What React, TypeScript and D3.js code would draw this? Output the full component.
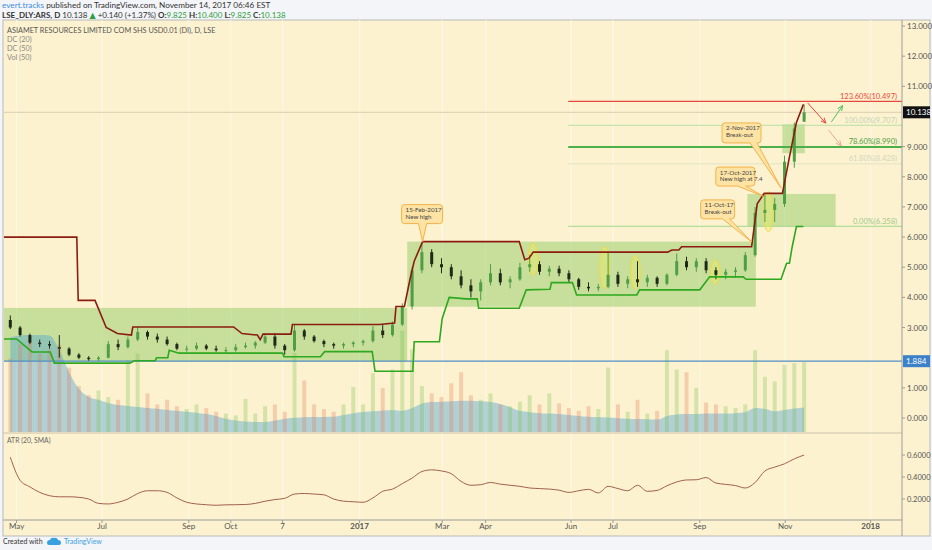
import React from "react";
import * as d3 from "d3";

// ---------- DATA ----------
const parse = (s: string) => new Date(s + "T00:00:00Z");

// weekly bars, week starting Mondays from 2016-04-25 to 2017-11-13
const weekStarts: Date[] = d3.utcMonday.range(parse("2016-04-25"), parse("2017-11-14"));

const opens = [3.25,3.0,2.75,2.5,2.45,2.35,2.3,2.1,2.0,1.95, 2.0,2.45,2.35,2.6,2.85,2.7,2.6,2.45,2.3,2.3, 2.4,2.3,2.25,2.25,2.35,2.4,2.5,2.7,2.4,2.25, 2.9,2.7,2.55,2.45,2.4,2.45,2.5,2.55,2.9,2.75, 3.1,3.7,4.9,5.5,5.1,5.0,4.7,4.4,4.2,4.5, 4.8,4.5,4.6,5.0,5.1,4.85,4.95,4.8,4.6,4.35, 4.3,4.35,4.75,4.45,4.6,4.5,4.65,4.45,4.75,5.2, 5.0,5.2,4.9,4.75,4.85,4.9,5.4,6.8,6.9,7.1, 8.5,9.825];
const highs = [3.4,3.05,2.8,2.6,2.55,2.75,2.35,2.15,2.05,2.05, 2.55,2.6,2.7,3.05,2.9,2.8,2.7,2.5,2.4,2.5, 2.45,2.4,2.35,2.45,2.5,2.55,2.8,2.8,2.45,3.1, 2.95,2.75,2.6,2.5,2.5,2.55,2.6,3.05,3.1,3.2, 3.8,5.0,5.8,5.6,5.3,5.1,4.9,4.6,4.6,5.1, 4.95,4.7,5.15,5.4,5.2,5.05,5.05,4.9,4.65,4.5, 4.45,5.5,4.85,4.7,5.2,4.75,4.7,4.8,5.45,5.35, 5.3,5.3,5.0,4.95,5.0,5.5,7.0,7.4,7.3,8.7, 9.8,10.4];
const lows = [2.95,2.7,2.45,2.35,2.3,2.0,2.05,1.95,1.9,1.884, 1.98,2.25,2.3,2.55,2.6,2.5,2.4,2.25,2.2,2.25, 2.25,2.2,2.15,2.2,2.3,2.3,2.45,2.3,2.1,2.2, 2.6,2.5,2.35,2.3,2.3,2.35,2.4,2.5,2.65,2.7, 3.05,3.6,4.8,5.0,4.8,4.6,4.3,4.0,3.9,4.4, 4.4,4.3,4.55,4.85,4.75,4.7,4.7,4.5,4.25,4.2, 4.2,4.3,4.35,4.3,4.35,4.35,4.35,4.4,4.7,4.9, 4.85,4.8,4.6,4.6,4.65,4.85,5.35,6.5,6.5,7.0, 8.3,9.825];
const closes = [3.0,2.75,2.5,2.45,2.4,2.3,2.1,2.0,1.95,2.0, 2.45,2.35,2.6,2.85,2.7,2.6,2.45,2.3,2.3,2.4, 2.3,2.25,2.25,2.35,2.4,2.5,2.7,2.4,2.25,2.9, 2.7,2.55,2.45,2.4,2.45,2.5,2.55,2.9,2.75,3.1, 3.7,4.9,5.5,5.1,5.0,4.7,4.4,4.2,4.5,4.8, 4.5,4.6,5.0,5.1,4.85,4.95,4.8,4.6,4.35,4.3, 4.35,4.75,4.45,4.6,4.5,4.65,4.45,4.75,5.2,5.0, 5.2,4.9,4.75,4.85,4.9,5.4,6.8,6.9,7.1,8.5, 9.6,10.138];

const volumes = [800,950,1000,850,900,950,700,500,400,450, 380,350,780,850,420,300,350,280,250,300, 260,220,200,180,360,200,280,300,220,860, 560,300,250,220,300,490,300,640,480,680, 1100,900,500,420,380,530,650,400,350,420, 300,280,330,400,300,420,310,260,230,280, 250,700,300,220,350,200,230,890,680,650, 480,320,300,280,260,300,890,600,550,730, 750,760];
const volMA = [1030,1050,1055,1055,1050,890,650,470,380,350, 315,293,283,272,262,252,240,230,220,210, 195,175,145,125,115,110,110,125,145,155, 160,162,163,165,185,205,218,225,235,240, 230,260,310,325,330,335,340,340,335,325, 305,270,230,215,205,200,195,185,175,165, 160,158,150,145,140,138,135,175,190,195, 195,200,200,200,205,215,260,250,225,240, 255,265];
const atr = [0.58,0.37,0.31,0.26,0.23,0.22,0.22,0.215,0.2,0.16, 0.155,0.17,0.2,0.25,0.275,0.275,0.26,0.21,0.17,0.155, 0.148,0.143,0.147,0.148,0.15,0.16,0.18,0.195,0.206,0.245, 0.25,0.245,0.238,0.2,0.18,0.175,0.17,0.21,0.27,0.29, 0.34,0.39,0.45,0.465,0.455,0.43,0.36,0.325,0.33,0.35, 0.335,0.325,0.315,0.3,0.295,0.29,0.28,0.26,0.275,0.288, 0.255,0.315,0.295,0.275,0.325,0.27,0.278,0.32,0.355,0.373, 0.375,0.395,0.345,0.333,0.322,0.3,0.35,0.455,0.49,0.52, 0.565,0.6];

// Donchian channel (50)
const dcUpperDates = ["2016-04-22","2016-06-13","2016-06-14","2016-06-26","2016-07-04","2016-07-12","2016-07-22","2016-07-23","2016-10-03","2016-10-09","2016-10-20","2016-10-22","2016-10-24","2016-11-13","2016-11-14","2017-01-15","2017-01-26","2017-01-27","2017-02-02","2017-02-06","2017-02-09","2017-02-15","2017-04-25","2017-04-29","2017-05-02","2017-05-05","2017-08-09","2017-08-12","2017-08-17","2017-08-19","2017-10-08","2017-10-12","2017-10-17","2017-10-30","2017-11-04","2017-11-09","2017-11-14"];
const dcUpperValues = [6.0,6.0,3.9,3.9,3.0,2.8,2.75,3.02,3.02,2.8,2.75,2.6,2.78,2.78,3.1,3.1,3.15,3.7,3.7,4.6,5.2,5.85,5.85,5.25,5.3,5.5,5.5,5.57,5.57,5.68,5.68,7.1,7.45,7.45,8.65,9.8,10.4];
const dcLowerDates = ["2016-04-22","2016-05-01","2016-05-12","2016-05-25","2016-05-28","2016-07-21","2016-07-24","2016-08-08","2016-08-09","2016-08-17","2016-08-18","2016-08-25","2016-11-07","2016-11-08","2016-12-04","2016-12-07","2017-01-10","2017-01-12","2017-02-08","2017-02-09","2017-02-27","2017-03-01","2017-03-06","2017-03-18","2017-03-26","2017-03-27","2017-04-25","2017-04-30","2017-05-17","2017-05-18","2017-06-02","2017-06-05","2017-07-18","2017-07-20","2017-09-01","2017-09-08","2017-10-02","2017-10-04","2017-10-29","2017-11-02","2017-11-04","2017-11-06","2017-11-09","2017-11-14"];
const dcLowerValues = [2.62,2.62,2.19,2.19,1.82,1.82,1.9,1.9,2.0,2.0,2.25,2.15,2.15,2.03,2.03,2.2,2.2,1.55,1.55,2.53,2.53,3.3,4.0,3.95,3.95,3.64,3.64,4.25,4.27,4.49,4.49,4.08,4.08,4.25,4.25,4.68,4.68,4.6,4.6,5.13,5.13,5.68,6.35,6.35];

// ranges (boxes) drawn on chart: [startDate, endDate, lowPrice, highPrice]
const zones: [string, string, number, number][] = [
  ["2016-04-22", "2017-02-04", 1.884, 3.65],
  ["2017-02-04", "2017-10-11", 3.69, 5.85],
  ["2017-10-05", "2017-12-07", 6.358, 7.43],
  ["2017-10-30", "2017-11-15", 8.78, 9.74],
];

// highlighted ellipses: [centreDate, centrePrice, halfHeightInPrice]
const ellipses: [string, number, number][] = [
  ["2017-05-05", 5.27, 0.53],
  ["2017-06-25", 4.99, 0.7],
  ["2017-07-17", 4.84, 0.56],
  ["2017-09-12", 4.84, 0.4],
  ["2017-10-20", 6.84, 0.66],
];

// callouts: anchor date / price and text
const calloutDates = ["2017-02-15", "2017-10-08", "2017-10-16", "2017-10-29"];
const calloutPrices = [5.85, 5.84, 7.36, 7.63];
const calloutTexts = [["15-Feb-2017", "New high"], ["11-Oct-17", "Break-out"], ["17-Oct-2017", "New high at 7.4"], ["2-Nov-2017", "Break-out"]];

// Fibonacci extension
const fibLow = 6.358;
const fibHigh = 9.707;
const fibStart = "2017-05-30";
const fibRatios = [0, 0.618, 0.786, 1.0, 1.236];

// arrows [fromDate, fromPrice, toDate, toPrice]
const arrows: [string, number, string, number][] = [
  ["2017-11-17", 10.45, "2017-11-30", 9.78],
  ["2017-12-04", 9.82, "2017-12-12", 10.36],
  ["2017-12-02", 9.55, "2017-12-11", 9.02],
];

const lastPrice = 10.138;
const supportLevel = 1.884;

const priceTicks = [0, 1, 3, 4, 5, 6, 7, 8, 9, 11, 12, 13];
const atrTicks = [0.2, 0.4, 0.6];
const timeTickDates = ["2016-05-01","2016-07-01","2016-09-01","2016-10-01","2016-11-07","2017-01-01","2017-03-01","2017-04-01","2017-06-01","2017-07-01","2017-09-01","2017-11-01","2018-01-01"];
const timeTickLabels = ["May","Jul","Sep","Oct","7","2017","Mar","Apr","Jun","Jul","Sep","Nov","2018"];

// ---------- LAYOUT ----------
const W = 932, H = 550;
const L = 3, R = 930, TOP = 20, AXX = 902;
const MAIN_BOTTOM = 432, ATR_TOP = 433, ATR_BOTTOM = 520, CHART_BOTTOM = 536;
const FONT = "Lato, 'Open Sans', 'DejaVu Sans', sans-serif";

const calloutLayout = [
  { dx: -21, dy: -37, w: 41, h: 19, b0: -4, b1: 4 },
  { dx: -51, dy: -42, w: 34, h: 19, b0: -29, b1: -22 },
  { dx: -47, dy: -29, w: 39, h: 19, b0: -25, b1: -17 },
  { dx: -59, dy: -65, w: 39, h: 20, b0: -31, b1: -24 },
];
const fibStyles: Record<string, { c: string; w: number; t: string }> = {
  "0": { c: "#9fd88a", w: 1, t: "#9bc98a" },
  "0.618": { c: "#dfe3c4", w: 1, t: "#cfd8bd" },
  "0.786": { c: "#4cb04a", w: 2, t: "#4a9f45" },
  "1": { c: "#b5e0a0", w: 1, t: "#c2d4b4" },
  "1.236": { c: "#e8473e", w: 1.2, t: "#e8473e" },
};

export default function App() {
  const x = d3.scaleUtc()
    .domain([parse("2016-04-22"), new Date(Date.UTC(2018, 0, 23, 10))])
    .range([4, AXX]);
  const y = d3.scaleLinear().domain([0, 13]).range([418, 26]);
  const yv = d3.scaleLinear().domain([0, 1000]).range([MAIN_BOTTOM, 340]);
  const ya = d3.scaleLinear().domain([0, 0.6]).range([521, 455]);

  const cx = (i: number) => x(d3.utcHour.offset(weekStarts[i], 36));

  const upperLine = d3.line<number>().x((_, i) => x(parse(dcUpperDates[i]))).y((v) => y(v))(dcUpperValues) || "";
  const lowerLine = d3.line<number>().x((_, i) => x(parse(dcLowerDates[i]))).y((v) => y(v))(dcLowerValues) || "";
  const volArea = d3.area<number>().x((_, i) => cx(i)).y0(MAIN_BOTTOM).y1((v) => yv(v)).curve(d3.curveMonotoneX)(volMA) || "";
  const atrLine = d3.line<number>().x((_, i) => cx(i)).y((v) => ya(v)).curve(d3.curveMonotoneX)(atr) || "";

  const calloutPath = (tx: number, ty: number, k: number) => {
    const c = calloutLayout[k];
    const x0 = tx + c.dx, y0 = ty + c.dy, x1 = x0 + c.w, y1 = y0 + c.h, r = 3;
    const bx0 = tx + c.b0, bx1 = tx + c.b1;
    return `M${x0 + r},${y0}H${x1 - r}Q${x1},${y0} ${x1},${y0 + r}V${y1 - r}Q${x1},${y1} ${x1 - r},${y1}H${bx1}L${tx},${ty}L${bx0},${y1}H${x0 + r}Q${x0},${y1} ${x0},${y1 - r}V${y0 + r}Q${x0},${y0} ${x0 + r},${y0}Z`;
  };

  return (
    <div>
      <style>{"body{margin:0;background:#f3f5f8}"}</style>
      <svg width={W} height={H} style={{ display: "block", fontFamily: FONT }}>
        <defs>
          <clipPath id="mainClip"><rect x={L + 1} y={TOP} width={AXX - L - 1} height={MAIN_BOTTOM - TOP} /></clipPath>
          <clipPath id="atrClip"><rect x={L + 1} y={ATR_TOP} width={AXX - L - 1} height={ATR_BOTTOM - ATR_TOP} /></clipPath>
          <marker id="arR" viewBox="0 0 10 10" refX="9" refY="5" markerWidth="6" markerHeight="6" orient="auto">
            <path d="M0,1L9,5L0,9" fill="none" stroke="#e8473e" strokeWidth="1.5" />
          </marker>
          <marker id="arG" viewBox="0 0 10 10" refX="9" refY="5" markerWidth="6" markerHeight="6" orient="auto">
            <path d="M0,1L9,5L0,9" fill="none" stroke="#4cc060" strokeWidth="1.5" />
          </marker>
          <marker id="arF" viewBox="0 0 10 10" refX="9" refY="5" markerWidth="6" markerHeight="6" orient="auto">
            <path d="M0,1L9,5L0,9" fill="none" stroke="#e8a890" strokeWidth="1.5" />
          </marker>
        </defs>
        <rect x={0} y={0} width={W} height={H} fill="#f3f5f8" />
        {/* header */}
        <text x={2} y={8} fontSize={8.2} fill="#333">
          <tspan fill="#3d8fdc">evert.tracks</tspan>
          <tspan> published on TradingView.com, November 14, 2017 06:46 EST</tspan>
        </text>
        <text x={2} y={17.5} fontSize={8} fill="#333">
          <tspan fontWeight="bold">LSE_DLY:ARS, D</tspan>
          <tspan> 10.138 </tspan>
          <tspan fill="#2e9e3e">▲</tspan>
          <tspan> +0.140 (+1.37%) </tspan>
          <tspan fontWeight="bold">O:</tspan><tspan fill="#2e9e3e">9.825 </tspan>
          <tspan fontWeight="bold">H:</tspan><tspan fill="#2e9e3e">10.400 </tspan>
          <tspan fontWeight="bold">L:</tspan><tspan fill="#2e9e3e">9.825 </tspan>
          <tspan fontWeight="bold">C:</tspan><tspan fill="#2e9e3e">10.138</tspan>
        </text>

        {/* chart background */}
        <rect x={L} y={TOP} width={R - L} height={CHART_BOTTOM - TOP} fill="#fdf2cf" stroke="#b9b9b9" />

        {/* vertical grid */}
        {timeTickDates.map((d, i) => (
          <line key={"g" + i} x1={x(parse(d))} x2={x(parse(d))} y1={TOP} y2={ATR_BOTTOM} stroke="#fff8e6" strokeWidth={1} />
        ))}

        <g clipPath="url(#mainClip)">
          {/* zones */}
          {zones.map((z, i) => (
            <rect key={"z" + i} x={x(parse(z[0]))} width={x(parse(z[1])) - x(parse(z[0]))}
              y={y(z[3])} height={y(z[2]) - y(z[3])} fill="#7cc653" fillOpacity={0.42} />
          ))}
          {/* volume MA area */}
          <path d={volArea} fill="#4aa1d6" fillOpacity={0.42} />
          {/* volume bars */}
          {volumes.map((v, i) => (
            <rect key={"v" + i} x={cx(i) - 2} width={4} y={yv(v)} height={MAIN_BOTTOM - yv(v)}
              fill={closes[i] >= opens[i] ? "#78c050" : "#e07a5a"} fillOpacity={0.3} />
          ))}
          {/* current price line */}
          <line x1={L} x2={AXX} y1={y(lastPrice)} y2={y(lastPrice)} stroke="#d9cdb0" strokeWidth={1} />
          {/* support line */}
          <line x1={L} x2={AXX} y1={y(supportLevel)} y2={y(supportLevel)} stroke="#4f8fc6" strokeWidth={1.2} />
          {/* fib levels */}
          {fibRatios.map((r) => {
            const p = fibLow + r * (fibHigh - fibLow);
            const s = fibStyles[String(r)];
            return (
              <g key={"f" + r}>
                <line x1={x(parse(fibStart))} x2={AXX} y1={y(p)} y2={y(p)} stroke={s.c} strokeWidth={s.w} />
                <text x={AXX - 5} y={y(p) - 2.5} fontSize={7.5} fill={s.t} textAnchor="end">
                  {`${(r * 100).toFixed(2)}%(${p.toFixed(3)})`}
                </text>
              </g>
            );
          })}
          {/* ellipses */}
          {ellipses.map((e, i) => (
            <ellipse key={"e" + i} cx={x(parse(e[0]))} cy={y(e[1])} rx={5} ry={y(e[1] - e[2]) - y(e[1])}
              fill="#f2ee5a" fillOpacity={0.35} stroke="#f0d848" strokeWidth={1} />
          ))}
          {/* candles */}
          {opens.map((o, i) => {
            const c = closes[i];
            const up = c >= o;
            const col = up ? "#4f9e46" : "#1e2a18";
            const top = y(Math.max(o, c)), bot = y(Math.min(o, c));
            return (
              <g key={"c" + i}>
                <line x1={cx(i)} x2={cx(i)} y1={y(highs[i])} y2={y(lows[i])} stroke={col} strokeWidth={1} />
                <rect x={cx(i) - 1.5} width={3} y={top} height={Math.max(1, bot - top)} fill={col} />
              </g>
            );
          })}
          {/* Donchian channel */}
          <path d={upperLine} fill="none" stroke="#8c1c12" strokeWidth={1.6} />
          <path d={lowerLine} fill="none" stroke="#2ea81e" strokeWidth={1.6} />
          {/* callouts */}
          {calloutDates.map((d, k) => {
            const tx = x(parse(d)), ty = y(calloutPrices[k]);
            const c = calloutLayout[k];
            return (
              <g key={"co" + k}>
                <path d={calloutPath(tx, ty, k)} fill="#fde3a4" stroke="#f4b24a" strokeWidth={1} />
                {calloutTexts[k].map((t, j) => (
                  <text key={j} x={tx + c.dx + 4} y={ty + c.dy + 7.5 + j * 6.5} fontSize={6.2} fill="#444">{t}</text>
                ))}
              </g>
            );
          })}
          {/* arrows */}
          {arrows.map((a, i) => (
            <line key={"a" + i} x1={x(parse(a[0]))} y1={y(a[1])} x2={x(parse(a[2]))} y2={y(a[3])}
              stroke={i === 0 ? "#e8473e" : i === 1 ? "#4cc060" : "#e8a890"} strokeWidth={1}
              markerEnd={i === 0 ? "url(#arR)" : i === 1 ? "url(#arG)" : "url(#arF)"} />
          ))}
        </g>

        {/* legend */}
        <text x={7} y={33} fontSize={7.3} fill="#555">ASIAMET RESOURCES LIMITED COM SHS USD0.01 (DI), D, LSE</text>
        <text x={7} y={42} fontSize={7.3} fill="#888">DC (20)</text>
        <text x={7} y={51} fontSize={7.3} fill="#888">DC (50)</text>
        <text x={7} y={60} fontSize={7.3} fill="#888">Vol (50)</text>

        {/* ATR pane */}
        <line x1={L} x2={AXX} y1={ATR_TOP} y2={ATR_TOP} stroke="#c9c2ae" />
        <text x={7} y={443} fontSize={6.8} fill="#666">ATR (20, SMA)</text>
        <g clipPath="url(#atrClip)">
          <path d={atrLine} fill="none" stroke="#a0604e" strokeWidth={1} />
        </g>

        {/* price axis */}
        <line x1={AXX} x2={AXX} y1={TOP} y2={CHART_BOTTOM} stroke="#9c9c9c" />
        {priceTicks.map((t) => (
          <g key={"pt" + t}>
            <line x1={AXX} x2={AXX + 3} y1={y(t)} y2={y(t)} stroke="#9c9c9c" />
            <text x={AXX + 5} y={y(t) + 3} fontSize={8} fill="#555">{t.toFixed(3)}</text>
          </g>
        ))}
        <rect x={AXX + 1} y={y(lastPrice) - 6} width={27} height={12} fill="#111" />
        <text x={AXX + 4} y={y(lastPrice) + 3} fontSize={8} fill="#fff">{lastPrice.toFixed(3)}</text>
        <rect x={AXX + 1} y={y(supportLevel) - 6} width={27} height={12} fill="#3b82c9" />
        <text x={AXX + 4} y={y(supportLevel) + 3} fontSize={8} fill="#fff">{supportLevel.toFixed(3)}</text>
        {atrTicks.map((t) => (
          <g key={"at" + t}>
            <line x1={AXX} x2={AXX + 3} y1={ya(t)} y2={ya(t)} stroke="#9c9c9c" />
            <text x={AXX + 5} y={ya(t) + 3} fontSize={7.5} fill="#555">{t.toFixed(4)}</text>
          </g>
        ))}

        {/* time axis */}
        <line x1={L} x2={AXX} y1={ATR_BOTTOM} y2={ATR_BOTTOM} stroke="#9c9c9c" />
        {timeTickDates.map((d, i) => {
          const xx = x(parse(d));
          const bold = /^\d{4}$/.test(timeTickLabels[i]);
          return (
            <g key={"tt" + i}>
              <line x1={xx} x2={xx} y1={ATR_BOTTOM} y2={ATR_BOTTOM + 3} stroke="#9c9c9c" />
              <text x={xx} y={529} fontSize={8} fill="#555" textAnchor="middle" fontWeight={bold ? "bold" : "normal"}>{timeTickLabels[i]}</text>
            </g>
          );
        })}

        {/* footer */}
        <text x={3} y={544} fontSize={7} fill="#333">Created with</text>
        <g transform="translate(46,537)">
          <path d="M1,6 Q1,3 4,3 Q5,0 8,1 Q11,0 12,3 Q15,3 15,6 Q15,8 13,8 L3,8 Q1,8 1,6Z" fill="#3ba0e0" />
        </g>
        <text x={64} y={544} fontSize={7} fill="#3ba0e0">TradingView</text>
      </svg>
    </div>
  );
}
